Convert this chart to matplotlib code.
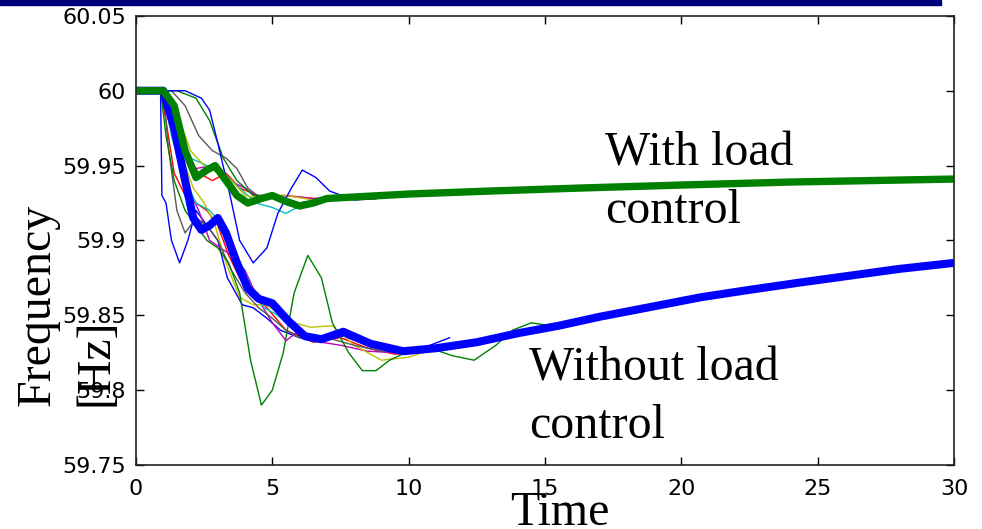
import matplotlib.pyplot as plt
from matplotlib.patches import Rectangle

# thick curves
t_with = [0, 1.0, 1.4, 1.8, 2.2, 2.6, 2.9, 3.3, 3.7, 4.1, 4.6, 5.0, 5.5, 6.0, 6.5, 7.0, 8, 10, 13, 16.3, 20, 24, 27, 30]
f_with = [60, 60, 59.99, 59.96, 59.942, 59.947, 59.95, 59.94, 59.93, 59.925, 59.928, 59.93, 59.926, 59.923,
          59.925, 59.928, 59.929, 59.931, 59.933, 59.935, 59.937, 59.939, 59.94, 59.941]

t_without = [0, 1.0, 1.4, 1.8, 2.1, 2.4, 2.7, 3.0, 3.3, 3.7, 4.1, 4.5, 5, 5.6, 6.2, 6.8, 7.6, 8.6, 9.8, 11,
             12.5, 14, 15.5, 17, 19, 20.7, 22.5, 24.4, 26, 28, 30]
f_without = [60, 60, 59.975, 59.94, 59.915, 59.907, 59.91, 59.915, 59.905, 59.885, 59.868, 59.861, 59.858,
             59.846, 59.836, 59.834, 59.839, 59.831, 59.826, 59.828, 59.832, 59.838, 59.843, 59.849, 59.856,
             59.862, 59.867, 59.872, 59.876, 59.881, 59.885]

# thin curves (individual buses)
t_r1 = [0, 1, 1.3, 1.8, 2.3, 2.8, 3.3, 3.8, 4.5, 5.5, 6.5, 7.5, 8.8]
f_r1 = [60, 60, 59.985, 59.96, 59.945, 59.94, 59.945, 59.935, 59.93, 59.93, 59.928, 59.928, 59.928]
t_m1 = [0, 1, 1.2, 1.6, 2.2, 2.8, 3.4, 4.0, 4.6, 5.4, 6.5, 7.5, 8.8]
f_m1 = [60, 60, 59.99, 59.965, 59.948, 59.95, 59.94, 59.935, 59.927, 59.93, 59.928, 59.929, 59.928]
t_k1 = [0, 1.3, 1.8, 2.3, 2.8, 3.3, 3.7, 4.1, 4.6, 5.2, 6, 7, 8.8]
f_k1 = [60, 60, 59.99, 59.97, 59.96, 59.955, 59.948, 59.935, 59.928, 59.93, 59.925, 59.928, 59.928]
t_c1 = [0, 1, 1.4, 2, 2.6, 3.2, 3.8, 4.4, 5, 5.5, 6.2, 7, 8.8]
f_c1 = [60, 60, 59.975, 59.955, 59.95, 59.945, 59.935, 59.925, 59.922, 59.918, 59.925, 59.928, 59.928]
t_b1 = [0, 1.8, 2.4, 2.7, 3.0, 3.45, 3.8, 4.3, 4.8, 5.2, 5.7, 6.1, 6.6, 7.1, 8, 8.8]
f_b1 = [60, 60, 59.995, 59.987, 59.965, 59.93, 59.9, 59.885, 59.895, 59.918, 59.935, 59.947, 59.942, 59.933,
        59.927, 59.928]
t_g1 = [0, 1.5, 2.2, 2.7, 3.2, 3.7, 4.3, 5, 6, 7, 8.8]
f_g1 = [60, 60, 59.995, 59.98, 59.955, 59.94, 59.93, 59.93, 59.925, 59.928, 59.928]
t_y1 = [0, 1.1, 1.5, 2, 2.5, 3, 3.5, 4, 4.6, 5.5, 6.5, 8.8]
f_y1 = [60, 60, 59.985, 59.96, 59.95, 59.945, 59.94, 59.93, 59.928, 59.93, 59.927, 59.928]

t_b2 = [0, 0.9, 0.95, 1.1, 1.3, 1.6, 1.9, 2.2, 2.6, 3.0, 3.35, 3.9, 4.3, 4.8, 5.3, 6, 6.8, 7.6, 8.5, 9.5,
        10.5, 11.5]
f_b2 = [60, 60, 59.93, 59.925, 59.9, 59.885, 59.9, 59.92, 59.91, 59.9, 59.875, 59.857, 59.855, 59.848,
        59.84, 59.835, 59.833, 59.836, 59.83, 59.825, 59.828, 59.835]
t_r2 = [0, 0.9, 1.1, 1.4, 1.8, 2.2, 2.6, 3, 3.4, 3.8, 4.3, 4.8, 5.5, 6.5, 7.5, 8.5, 9.5, 10.5, 11.5]
f_r2 = [60, 60, 59.98, 59.945, 59.93, 59.925, 59.92, 59.91, 59.89, 59.875, 59.865, 59.855, 59.84, 59.832,
        59.835, 59.828, 59.824, 59.826, 59.83]
t_m2 = [0, 1, 1.2, 1.5, 1.9, 2.3, 2.7, 3.1, 3.5, 4, 4.5, 5, 5.5, 6, 6.8, 7.5, 8.5, 9.5, 10.5, 11.5]
f_m2 = [60, 60, 59.99, 59.96, 59.935, 59.92, 59.9, 59.895, 59.89, 59.88, 59.86, 59.845, 59.833, 59.84,
        59.832, 59.83, 59.826, 59.825, 59.825, 59.828]
t_y2 = [0, 1, 1.3, 1.7, 2.1, 2.5, 2.9, 3.3, 3.8, 4.3, 4.8, 5.3, 5.8, 6.4, 7.2, 8, 9, 10, 11, 12]
f_y2 = [60, 60, 59.98, 59.955, 59.935, 59.925, 59.91, 59.885, 59.862, 59.857, 59.857, 59.85, 59.845,
        59.842, 59.843, 59.83, 59.82, 59.822, 59.828, 59.832]
t_c2 = [0, 1, 1.3, 1.7, 2.2, 2.7, 3.2, 3.7, 4.2, 4.7, 5.2, 5.8, 6.5, 7.5, 8.5, 9.5, 10.5, 11.5]
f_c2 = [60, 60, 59.97, 59.945, 59.925, 59.92, 59.91, 59.89, 59.87, 59.855, 59.85, 59.84, 59.835, 59.838,
        59.832, 59.828, 59.826, 59.83]
t_g2 = [0, 0.9, 1.1, 1.4, 1.8, 2.2, 2.6, 3.0, 3.4, 3.8, 4.2, 4.6, 5.0, 5.4, 5.8, 6.3, 6.8, 7.2, 7.8, 8.3,
        8.8, 9.3, 10, 10.8, 11.6, 12.4, 13.2, 13.8, 14.5, 15.2]
f_g2 = [60, 60, 59.97, 59.94, 59.92, 59.91, 59.9, 59.895, 59.885, 59.865, 59.82, 59.79, 59.8, 59.825,
        59.865, 59.89, 59.875, 59.845, 59.825, 59.813, 59.813, 59.82, 59.826, 59.828, 59.823, 59.82, 59.83,
        59.84, 59.845, 59.843]
t_k2 = [0, 1, 1.2, 1.5, 1.8, 2.2, 2.6, 3, 3.5, 4, 4.5, 5, 5.5, 6, 7, 8, 9, 10, 11]
f_k2 = [60, 60, 59.96, 59.92, 59.905, 59.915, 59.91, 59.9, 59.88, 59.865, 59.855, 59.848, 59.84, 59.835,
        59.835, 59.83, 59.826, 59.825, 59.828]

fig = plt.figure(figsize=(9.82, 5.29), dpi=100)
ax = fig.add_axes([0.1385, 0.121, 0.833, 0.849])

thin = [(t_r1, f_r1, 'r'), (t_m1, f_m1, 'm'), (t_k1, f_k1, '0.35'), (t_c1, f_c1, 'c'),
        (t_g1, f_g1, 'g'), (t_y1, f_y1, 'y'), (t_b1, f_b1, 'b'),
        (t_b2, f_b2, 'b'), (t_r2, f_r2, 'r'), (t_m2, f_m2, 'm'), (t_y2, f_y2, 'y'),
        (t_c2, f_c2, 'c'), (t_k2, f_k2, '0.35'), (t_g2, f_g2, 'g')]
for t, f, c in thin:
    ax.plot(t, f, color=c, lw=1.0)

ax.plot(t_without, f_without, color='b', lw=5.8, solid_capstyle='butt')
ax.plot(t_with, f_with, color='g', lw=5.3, solid_capstyle='butt')

ax.set_xlim(0, 30)
ax.set_ylim(59.75, 60.05)
ax.set_xticks([0, 5, 10, 15, 20, 25, 30])
ax.set_yticks([59.75, 59.8, 59.85, 59.9, 59.95, 60, 60.05])
ax.set_yticklabels(['59.75', '59.8', '59.85', '59.9', '59.95', '60', '60.05'])
ax.tick_params(direction='in', length=6, width=1, top=True, right=True, labelsize=16)
ax.tick_params(axis='x', pad=10)
ax.tick_params(axis='y', pad=7)
for s in ax.spines.values():
    s.set_linewidth(1.2)
    s.set_color('#222222')

serif = 'Liberation Serif'
fs = 34.5
ax.text(17.2, 59.973, 'With load\ncontrol', family=serif, fontsize=fs, va='top', ha='left',
        linespacing=1.4)
ax.text(14.4, 59.829, 'Without load\ncontrol', family=serif, fontsize=fs, va='top', ha='left',
        linespacing=1.4)
fig.text(0.068, 0.232, 'Frequency\n[Hz]', family=serif, fontsize=fs, rotation=90,
         va='bottom', ha='center', multialignment='left', linespacing=1.4)
fig.text(0.57, 0.008, 'Time', family=serif, fontsize=fs, ha='center', va='baseline')

fig.patches.append(Rectangle((0, 0.99), 0.958, 0.01, transform=fig.transFigure,
                             color='#00007a', zorder=5))

fig.savefig('out.png', dpi=100)
